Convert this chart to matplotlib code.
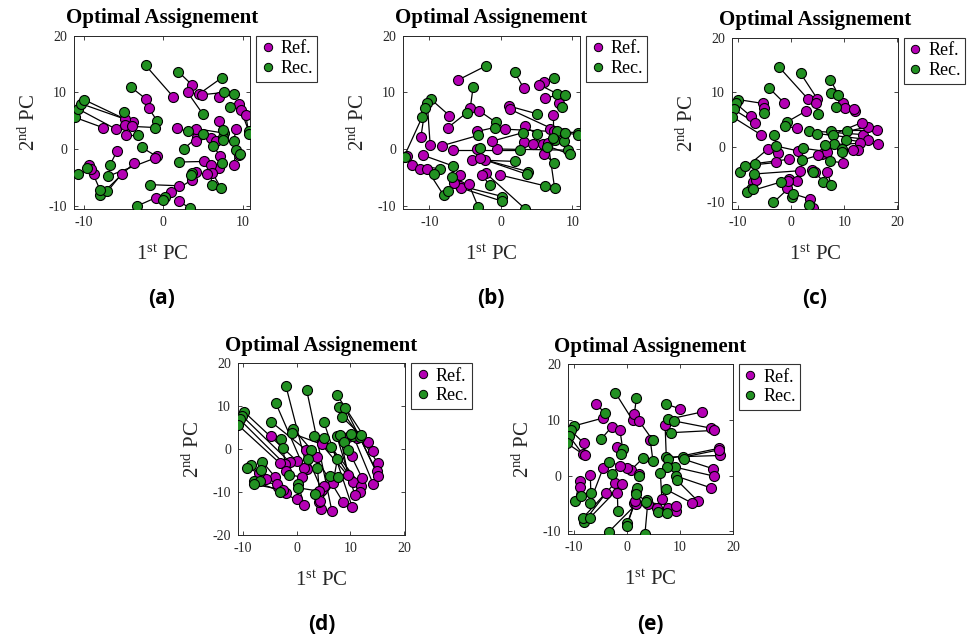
import matplotlib
matplotlib.use("Agg")
import matplotlib.pyplot as plt
from matplotlib.lines import Line2D

plt.rcParams['font.family'] = ['Liberation Serif', 'DejaVu Serif']
plt.rcParams['mathtext.default'] = 'regular'
plt.rcParams['axes.unicode_minus'] = False

REF_COLOR = '#b400b4'
REC_COLOR = '#229122'

# --- (a) ---
a_ref_x = [1.3, 3.6, 4.5, 3.1, 4.9, 7.0, -2.1, -1.8, 9.5, 9.8, 10.4, -7.6, -5.9, -3.8, -4.8, -4.8,
           -3.9, -4.7, -5.8, -0.8, -3.6, -5.2, -9.3, -8.7, -9.0, -1.0, 5.2, 4.3, 1.7, 4.2, 4.2, 6.0,
           6.7, 7.0, 9.2, 7.2, 8.9, 9.6, 7.0, 6.0, 6.2, 5.5, 4.1, 3.7, 2.0, 1.0, -0.9, 2.0]
a_ref_y = [9.2, 11.4, 9.7, 10.0, 9.6, 9.2, 8.8, 7.2, 7.9, 6.9, 6.1, 3.8, 3.5, 4.8, 5.3, 4.2,
           4.0, 2.4, -0.4, -1.3, -2.4, -4.4, -2.8, -4.5, -3.6, -1.6, -2.2, 2.1, 3.7, 3.6, 1.4, 1.9,
           1.4, 4.9, 3.5, -1.2, -2.9, -1.0, -3.4, -2.8, -4.2, -4.4, -4.1, -5.4, -6.5, -7.6, -8.6, -9.2]
a_rec_x = [-2.2, 1.9, 7.4, 5.0, 7.7, 8.9, -4.0, -0.7, 8.4, 10.8, 10.8, -11.1, -10.7, -10.3, -9.9, -4.9,
           -1.0, -3.2, -6.7, -2.7, -7.9, -7.0, -7.9, -9.6, -10.7, -6.9, 2.0, 2.6, 3.1, 7.7, 5.0, 7.6,
           7.6, 7.6, 8.9, 6.3, 9.2, 9.7, 7.4, 6.1, 7.3, 3.7, 3.5, 0.3, -1.6, 0.0, -3.3, 3.4]
a_rec_y = [14.8, 13.7, 12.6, 6.2, 10.0, 9.7, 10.9, 4.9, 7.5, 3.1, 2.6, 5.6, 7.1, 8.0, 8.7, 6.5,
           3.8, 2.4, -2.9, 0.3, -8.2, -7.5, -7.3, -3.4, -4.4, -4.8, -2.3, 0.0, 3.1, 2.8, 2.6, 2.2,
           1.6, 3.3, 1.5, 0.5, -0.2, -0.9, -2.5, -6.3, -6.9, -4.2, -4.6, -8.4, -6.3, -9.1, -10.1, -10.5]

# --- (b) ---
b_ref_x = [-6.0, 3.2, 6.0, 5.3, 6.1, 8.1, -4.3, -7.2, -9.9, -11.2, -13.6, -7.4, -3.1, 1.1, 1.3, -8.2,
           -6.7, -0.5, -3.4, 0.6, -1.2, 3.3, 3.2, 4.5, 5.9, 6.0, 6.9, 8.8, 7.4, 7.3, 6.6, -4.0,
           -2.3, -3.0, -0.1, -2.1, -2.6, -3.4, -5.7, -5.6, -5.7, -10.9, -12.5, -11.3, -10.4, -13.2, -6.5, -4.5]
b_ref_y = [12.2, 10.7, 11.9, 11.4, 9.1, 8.2, 7.2, 5.9, 0.7, 2.1, -1.5, 3.8, 6.8, 7.6, 7.0, 0.6,
           -0.2, 0.0, 3.1, 3.5, 1.4, 4.1, 1.3, 0.8, 0.8, -0.8, 3.5, 2.9, 3.2, 6.1, 1.0, -1.9,
           -1.9, -1.6, -4.6, -4.3, -4.6, 0.0, -6.5, -6.9, -4.6, -1.1, -2.8, -3.5, -3.5, -1.3, -6.0, -6.2]
b_rec_x = [-2.1, 1.9, 7.4, 7.8, 9.0, 8.5, -3.9, -9.8, -10.3, -10.6, -11.0, -4.8, -0.7, 5.1, 7.8, -3.2,
           2.6, 9.4, -0.9, 10.7, 3.1, 5.0, 7.5, 8.8, 9.6, 7.4, 8.9, 10.8, 6.4, 7.3, 7.5, 2.0,
           3.8, 3.7, 6.1, 3.4, -1.6, -2.9, 0.2, 0.1, -6.8, -6.7, -8.5, -9.4, -8.0, -13.4, -7.4, -3.2]
b_rec_y = [14.7, 13.6, 12.6, 9.8, 9.6, 7.5, 10.9, 8.8, 8.1, 7.2, 5.7, 6.4, 4.7, 6.2, 3.2, 2.4,
           -0.2, -0.2, 3.8, 2.9, 2.9, 2.6, 1.6, 1.4, -0.9, -2.5, 2.8, 2.5, 0.4, 1.9, -6.9, -2.2,
           -4.0, -4.5, -6.5, -10.6, -6.4, 0.2, -8.4, -9.2, -5.0, -3.0, -3.5, -4.5, -8.2, -1.4, -7.4, -10.2]

# --- (c) ---
c_ref_x = [3.1, 4.9, 9.8, -1.3, 10.1, 12.0, 11.8, 4.7, -5.3, -7.6, -6.8, -5.7, -5.1, 2.8, 1.1, -4.3,
           -2.4, 13.6, 14.5, 16.1, 14.4, 13.3, 16.4, 12.9, 12.6, 11.7, 5.8, 1.4, 6.7, 9.8, 5.0, -0.3,
           -2.8, 1.7, -7.1, -0.3, 1.1, -0.8, -6.6, -0.5, 3.9, 4.5, 6.8, 3.6, 4.1]
c_ref_y = [8.9, 8.9, 8.0, 8.1, 7.2, 6.6, 6.9, 8.1, 8.0, 5.7, 4.5, 2.3, 7.1, 6.6, 3.5, -0.3,
           -1.0, 2.3, 1.4, 3.1, 3.7, 4.5, 0.5, 0.7, -0.5, -0.5, -1.2, -0.7, -0.8, -2.9, -1.5, -2.2,
           -2.8, -4.3, -6.3, -5.9, -6.1, -7.4, -6.0, -6.2, -4.2, -4.5, -4.5, -9.5, -11.2]
c_rec_x = [-2.2, 1.8, 7.4, -4.1, 7.6, 8.9, 8.4, 5.0, -9.9, -10.4, -10.8, -11.1, -5.1, -0.8, -1.1, -9.6,
           -3.2, 3.3, 4.8, 7.6, 10.6, 7.8, 10.4, 8.1, 9.5, 9.5, 6.4, -2.8, 2.3, 7.3, 2.0, -6.8,
           -8.6, -6.9, -7.6, -8.2, -3.3, 0.1, -7.1, -1.8, 4.1, 6.1, 7.6, 0.3, 3.4]
c_rec_y = [14.6, 13.5, 12.3, 10.8, 9.9, 9.5, 7.4, 6.0, 8.7, 8.0, 6.9, 5.6, 6.3, 4.6, 3.8, -4.6,
           2.2, 3.0, 2.5, 3.0, 2.9, 2.3, 1.4, 0.5, -0.3, -0.9, 0.4, 0.2, -0.2, -2.5, -2.4, -3.0,
           -3.4, -4.9, -7.6, -8.2, -10.1, -9.2, -7.6, -6.3, -4.5, -6.4, -7.0, -8.5, -10.6]

# --- (d) ---
d_ref_x = [2.0, 6.6, 14.3, 1.4, 15.2, 14.9, 13.4, 10.4, 1.7, 0.0, -1.2, -2.2, -3.1, -4.7, 3.9, 4.7,
           10.6, 12.1, 11.8, 10.9, 9.6, 12.2, 10.4, 14.3, 15.2, 9.6, 8.7, 4.7, 4.5, 6.8, 5.2, 4.2,
           -4.0, -5.6, -3.4, -1.9, -3.6, 0.0, 1.4, 1.0, 4.2, 4.4, -7.0, -2.5, -2.0, 11.2]
d_ref_y = [-4.6, -14.5, -0.4, -4.4, -3.3, -5.2, 1.7, -13.6, -0.1, -2.7, -3.1, -3.5, -3.3, 3.0, -1.8, 1.1,
           -7.7, -8.6, -10.0, -10.8, -6.0, -6.7, -1.6, -8.2, -6.2, 2.7, -12.4, -9.5, -14.0, -7.9, -8.6, -12.4,
           -6.5, -6.9, -8.8, -10.3, -8.2, -11.7, -13.0, -6.5, -9.8, -12.0, -5.5, -9.5, -5.0, 2.6]
d_rec_x = [-2.0, 1.9, 7.6, -3.9, 7.9, 9.1, 8.5, 5.1, -4.8, -9.8, -10.2, -10.6, -10.9, -2.9, -0.6, -0.9,
           3.3, 5.1, 6.4, 7.5, 8.1, 8.9, 9.6, 10.6, 11.8, 10.1, 2.7, 2.2, 3.9, 7.6, 6.2, 7.8,
           -6.4, -8.4, -6.6, -7.9, -6.8, -3.1, 0.3, -1.4, 0.2, 3.4, -9.3, -8.0, -2.5, 12.0]
d_rec_y = [14.8, 13.7, 12.5, 10.8, 9.9, 9.5, 7.4, 6.3, 6.4, 8.7, 7.8, 6.9, 5.6, 2.3, 4.7, 3.7,
           3.1, 2.6, 0.4, 3.0, 3.2, 1.7, -0.2, 3.0, 2.7, 3.4, -0.1, -2.4, -4.4, -2.4, -6.2, -6.6,
           -2.9, -3.7, -4.8, -7.5, -7.5, -10.0, -8.2, -6.0, -9.0, -10.5, -4.4, -8.2, 0.3, 3.3]

# --- (e) ---
e_ref_x = [1.1, 1.4, 10.0, -5.8, 14.1, 15.9, 16.4, -4.6, -8.1, -8.3, -7.9, -2.8, -1.3, -1.9, 2.3, 4.4,
           0.8, 0.1, 17.5, 17.4, 17.3, 16.3, 16.4, 7.2, 6.6, 15.8, 13.4, 12.2, -1.3, 2.2, 1.8, -8.9,
           -8.9, -3.9, -2.2, -6.9, -4.5, -1.8, -0.9, 1.4, 1.7, 1.6, 3.7, 3.9, 7.8, 9.3, 9.3, 5.6]
e_ref_y = [9.9, 11.0, 12.0, 12.8, 11.4, 8.5, 8.1, 10.3, 5.8, 3.8, 3.6, 8.8, 8.1, 5.2, 9.8, 6.4,
           1.0, 1.4, 3.6, 4.9, 4.6, 1.2, -0.1, 9.1, -4.3, -2.2, -4.6, -4.9, 1.8, 0.2, -3.0, -0.9,
           -2.0, -3.1, -1.3, 0.1, 1.3, -3.2, -1.6, -5.0, -5.2, -4.6, -4.9, -5.2, -5.8, -6.4, -5.5, -5.8]
e_rec_x = [-2.2, 1.8, 7.4, -4.1, 7.8, 8.9, 8.4, -10.0, -10.6, -10.9, -11.3, -4.9, -0.8, -1.1, 4.9, 4.9,
           3.1, -3.3, 7.4, 7.7, 10.6, 10.8, 9.1, 7.5, 6.3, 9.3, 9.4, 7.4, -2.9, 2.2, 1.9, -9.7,
           -8.6, -8.1, -8.3, -6.8, -7.0, -1.7, -7.0, 0.1, -3.4, 0.0, 3.8, 3.4, 5.9, 7.5, 3.6, 1.8]
e_rec_y = [14.9, 14.0, 12.8, 11.2, 10.1, 9.8, 7.7, 8.9, 8.1, 7.1, 5.8, 6.5, 4.8, 3.9, 6.3, 2.7,
           3.2, 2.4, 3.3, 3.0, 3.3, 2.9, 1.5, 1.5, 0.5, -0.1, -0.8, -2.5, 0.3, 0.0, -2.2, -4.5,
           -3.6, -8.3, -7.6, -3.1, -4.9, -6.4, -7.6, -8.5, -10.1, -9.0, -4.4, -10.5, -6.5, -6.8, -4.8, -3.4]

panels = [
    # label, data, axes rect (fig fraction), xlim, ylim, xticks, yticks
    ("(a)", (a_ref_x, a_ref_y, a_rec_x, a_rec_y), [0.0758, 0.674, 0.180, 0.270],
     (-11.2, 10.9), (-10.6, 20), [-10, 0, 10], [-10, 0, 10, 20]),
    ("(b)", (b_ref_x, b_ref_y, b_rec_x, b_rec_y), [0.4129, 0.674, 0.181, 0.270],
     (-13.7, 11.0), (-10.6, 20), [-10, 0, 10], [-10, 0, 10, 20]),
    ("(c)", (c_ref_x, c_ref_y, c_rec_x, c_rec_y), [0.750, 0.674, 0.170, 0.267],
     (-11.1, 20.1), (-11.3, 20), [-10, 0, 10, 20], [-10, 0, 10, 20]),
    ("(d)", (d_ref_x, d_ref_y, d_rec_x, d_rec_y), [0.2439, 0.1654, 0.171, 0.268],
     (-10.9, 20.2), (-20, 20), [-10, 0, 10, 20], [-20, -10, 0, 10, 20]),
    ("(e)", (e_ref_x, e_ref_y, e_rec_x, e_rec_y), [0.582, 0.1669, 0.169, 0.265],
     (-11.1, 19.9), (-10.5, 20), [-10, 0, 10, 20], [-10, 0, 10, 20]),
]

fig = plt.figure(figsize=(9.76, 6.41), dpi=100)

for label, (rx, ry, cx, cy), rect, xlim, ylim, xt, yt in panels:
    ax = fig.add_axes(rect)
    # assignment lines
    for i in range(len(rx)):
        ax.plot([rx[i], cx[i]], [ry[i], cy[i]], color='black', lw=0.9, zorder=1)
    ax.plot(rx, ry, 'o', ms=7.2, mfc=REF_COLOR, mec='black', mew=0.8, ls='none', zorder=2)
    ax.plot(cx, cy, 'o', ms=7.2, mfc=REC_COLOR, mec='black', mew=0.8, ls='none', zorder=3)
    ax.set_xlim(*xlim)
    ax.set_ylim(*ylim)
    ax.set_xticks(xt)
    ax.set_yticks(yt)
    ax.tick_params(direction='in', top=True, right=True, length=3, width=0.6,
                   labelsize=10, colors='#262626', pad=5)
    for s in ax.spines.values():
        s.set_linewidth(0.7)
        s.set_color('#262626')
    ax.set_title("Optimal Assignement", fontsize=15, fontweight='bold', pad=9)
    ax.set_xlabel("1$^{st}$ PC", fontsize=15, color='#262626', labelpad=12)
    ax.set_ylabel("2$^{nd}$ PC", fontsize=15, color='#262626', labelpad=6)
    handles = [Line2D([], [], marker='o', ls='none', ms=6, mfc=REF_COLOR, mec='black', mew=0.7),
               Line2D([], [], marker='o', ls='none', ms=6, mfc=REC_COLOR, mec='black', mew=0.7)]
    leg = ax.legend(handles, ["Ref.", "Rec."], loc='upper left', bbox_to_anchor=(1.035, 1.0),
                    fontsize=13, frameon=True, fancybox=False, handlelength=0.8,
                    handletextpad=0.3, borderpad=0.25, labelspacing=0.15, borderaxespad=0)
    leg.get_frame().set_edgecolor('black')
    leg.get_frame().set_linewidth(0.8)
    cxf = rect[0] + rect[2] / 2
    ylab = 0.535 if rect[1] > 0.5 else 0.025
    fig.text(cxf, ylab, label, ha='center', va='center', fontsize=15,
             fontweight='bold', family='Open Sans')

fig.savefig("out.png", dpi=100)
